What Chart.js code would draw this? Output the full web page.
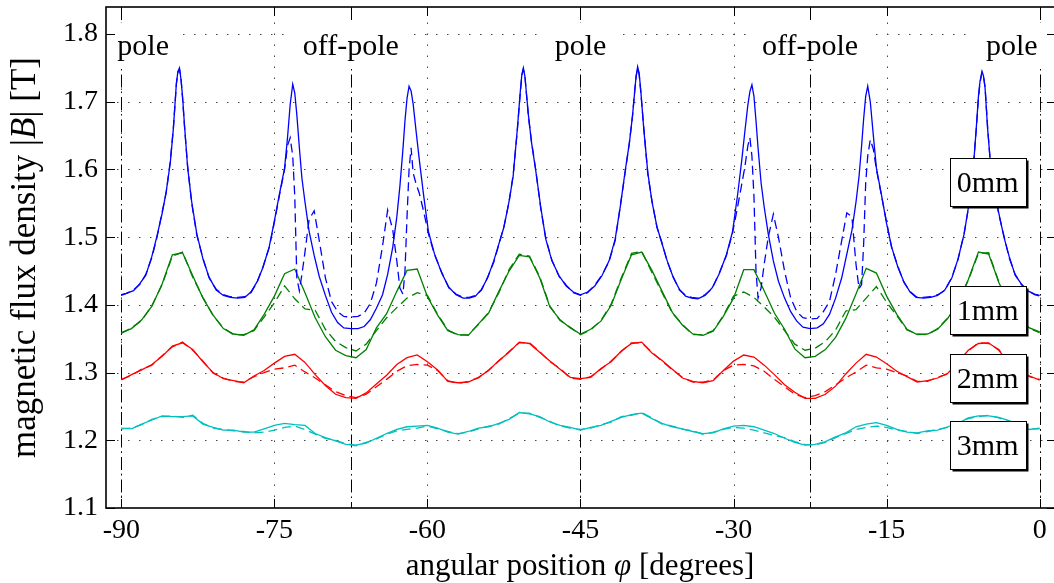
<!DOCTYPE html>
<html>
<head>
<meta charset="utf-8">
<script src="https://cdn.jsdelivr.net/npm/chart.js@4.4.0/dist/chart.umd.min.js"></script>
<style>
  html, body { margin: 0; padding: 0; background: #fff; overflow: hidden; }
  #wrap { width: 1060px; height: 583px; }
</style>
</head>
<body>
<div id="wrap"><canvas id="mychart" width="1060" height="583"></canvas></div>
<script>
// ---- data ----
const xTicks = [-90, -75, -60, -45, -30, -15, 0];
const yTicks = [1.1, 1.2, 1.3, 1.4, 1.5, 1.6, 1.7, 1.8];

const poleAt = [-90, -67.5, -45, -22.5, 0];
const poleText = ['pole', 'off-pole', 'pole', 'off-pole', 'pole'];

const gapText = ['0mm', '1mm', '2mm', '3mm'];
const gapY = [1.581, 1.392, 1.292, 1.193];

// 0mm: fine sampling because of the sharp peaks
const blueAngle = [
  -90, -89.5, -88.8, -88.2, -87.6, -87.0, -86.5, -86.0, -85.6, -85.2, -84.9, -84.6, -84.45, -84.3,
  -84.15, -84.0, -83.8, -83.5, -83.1, -82.6, -82.0, -81.4, -80.7, -80.0, -79.3, -78.6,
  -77.9, -77.3, -76.7, -76.1, -75.5, -75.0, -74.5, -74.0, -73.7, -73.45, -73.2,
  -73.0, -72.8, -72.55, -72.3, -72.0, -71.6, -71.1, -70.6, -70.0, -69.4, -68.8, -68.2, -67.5,
  -66.8, -66.2, -65.6, -65.0, -64.4, -63.9, -63.4, -63.0, -62.7, -62.4, -62.2, -62.0, -61.8,
  -61.6, -61.4, -61.1, -60.8, -60.4, -59.9, -59.3, -58.6, -57.9, -57.2, -56.5,
  -55.9, -55.3, -54.7, -54.1, -53.5, -53.0, -52.5, -52.0, -51.6, -51.2, -50.9, -50.75, -50.6,
  -50.45, -50.3, -50.1, -49.8, -49.4, -48.9, -48.4, -47.8, -47.1, -46.4, -45.7, -45.0,
  -44.3, -43.6, -42.9, -42.2, -41.6, -41.1, -40.6, -40.2, -39.9, -39.7, -39.55, -39.4,
  -39.25, -39.1, -38.8, -38.4, -38.0, -37.5, -37.0, -36.5, -35.9, -35.3, -34.7, -34.1, -33.5,
  -32.8, -32.1, -31.4, -30.7, -30.1, -29.6, -29.2, -28.9, -28.6, -28.4, -28.2,
  -28.0, -27.8, -27.6, -27.3, -27.0, -26.6, -26.1, -25.6, -25.0, -24.4, -23.8, -23.2, -22.5,
  -21.8, -21.2, -20.6, -20.0, -19.4, -18.9, -18.4, -18.0, -17.7, -17.45, -17.25, -17.05, -16.85,
  -16.6, -16.3, -16.0, -15.5, -15.0, -14.5, -13.9, -13.3, -12.7, -12.1,
  -11.4, -10.7, -10.0, -9.3, -8.6, -8.0, -7.4, -6.9, -6.5, -6.2, -6.0, -5.85, -5.65,
  -5.5, -5.35, -5.1, -4.8, -4.4, -4.0, -3.5, -3.0, -2.4, -1.8, -1.2, -0.5, 0
];
const blueSolid = [
  1.415, 1.417, 1.421, 1.431, 1.444, 1.472, 1.502, 1.535, 1.567, 1.610, 1.660, 1.728, 1.745, 1.750,
  1.733, 1.708, 1.664, 1.603, 1.552, 1.505, 1.468, 1.441, 1.422, 1.414, 1.411, 1.410,
  1.411, 1.419, 1.434, 1.456, 1.486, 1.524, 1.564, 1.602, 1.649, 1.696, 1.726,
  1.713, 1.681, 1.632, 1.587, 1.552, 1.509, 1.473, 1.442, 1.414, 1.389, 1.374, 1.366, 1.365,
  1.365, 1.368, 1.378, 1.395, 1.415, 1.445, 1.485, 1.530, 1.575, 1.630, 1.672, 1.705, 1.723,
  1.716, 1.697, 1.655, 1.615, 1.565, 1.508, 1.475, 1.447, 1.426, 1.415, 1.410,
  1.410, 1.413, 1.423, 1.440, 1.465, 1.490, 1.515, 1.553, 1.590, 1.658, 1.715, 1.740, 1.750,
  1.738, 1.713, 1.680, 1.640, 1.600, 1.545, 1.497, 1.465, 1.443, 1.428, 1.419, 1.415,
  1.419, 1.428, 1.443, 1.465, 1.497, 1.545, 1.600, 1.640, 1.680, 1.713, 1.738, 1.752,
  1.742, 1.718, 1.660, 1.595, 1.553, 1.515, 1.490, 1.465, 1.440, 1.423, 1.413, 1.410, 1.409,
  1.414, 1.425, 1.446, 1.474, 1.508, 1.563, 1.613, 1.655, 1.695, 1.715, 1.725,
  1.708, 1.672, 1.632, 1.580, 1.545, 1.505, 1.465, 1.435, 1.410, 1.390, 1.376, 1.367, 1.365,
  1.366, 1.372, 1.386, 1.410, 1.440, 1.475, 1.510, 1.552, 1.590, 1.635, 1.675, 1.708, 1.723,
  1.700, 1.650, 1.602, 1.562, 1.520, 1.485, 1.456, 1.434, 1.419, 1.411,
  1.410, 1.411, 1.414, 1.422, 1.440, 1.468, 1.505, 1.552, 1.603, 1.664, 1.708, 1.730, 1.745,
  1.738, 1.720, 1.660, 1.605, 1.565, 1.535, 1.500, 1.472, 1.444, 1.431, 1.421, 1.416, 1.414
];
const blueDashed = [
  1.414, 1.417, 1.422, 1.430, 1.445, 1.470, 1.500, 1.537, 1.566, 1.612, 1.661, 1.726, 1.744, 1.748,
  1.735, 1.706, 1.662, 1.605, 1.550, 1.503, 1.469, 1.440, 1.423, 1.415, 1.412, 1.411,
  1.412, 1.418, 1.433, 1.457, 1.485, 1.522, 1.562, 1.600, 1.636, 1.647, 1.620,
  1.560, 1.440, 1.421, 1.445, 1.478, 1.526, 1.539, 1.495, 1.440, 1.405, 1.390, 1.383, 1.382,
  1.383, 1.388, 1.402, 1.432, 1.487, 1.540, 1.511, 1.465, 1.425, 1.416, 1.450, 1.530, 1.600,
  1.632, 1.595, 1.578, 1.565, 1.540, 1.505, 1.474, 1.448, 1.425, 1.416, 1.411,
  1.411, 1.414, 1.422, 1.441, 1.463, 1.489, 1.516, 1.552, 1.592, 1.656, 1.713, 1.738, 1.748,
  1.739, 1.712, 1.678, 1.641, 1.601, 1.543, 1.498, 1.466, 1.442, 1.429, 1.418, 1.414,
  1.418, 1.429, 1.444, 1.464, 1.495, 1.546, 1.598, 1.641, 1.679, 1.714, 1.737, 1.750,
  1.740, 1.716, 1.662, 1.593, 1.554, 1.514, 1.491, 1.464, 1.441, 1.422, 1.414, 1.411, 1.410,
  1.415, 1.424, 1.447, 1.473, 1.506, 1.545, 1.578, 1.603, 1.635, 1.647, 1.620,
  1.560, 1.450, 1.410, 1.425, 1.460, 1.500, 1.534, 1.500, 1.450, 1.410, 1.390, 1.381, 1.379,
  1.380, 1.390, 1.405, 1.445, 1.495, 1.536, 1.530, 1.460, 1.424, 1.430, 1.490, 1.580, 1.620,
  1.644, 1.630, 1.600, 1.561, 1.522, 1.484, 1.457, 1.433, 1.420, 1.412,
  1.411, 1.412, 1.415, 1.421, 1.441, 1.467, 1.506, 1.550, 1.605, 1.662, 1.706, 1.728, 1.743,
  1.737, 1.722, 1.662, 1.603, 1.567, 1.533, 1.502, 1.470, 1.445, 1.430, 1.422, 1.415, 1.413
];

// 1mm, 2mm, 3mm: one value per degree
const angle = [
  -90, -89, -88, -87, -86, -85, -84, -83, -82, -81, -80, -79, -78, -77, -76, -75, -74, -73, -72, -71,
  -70, -69, -68, -67, -66, -65, -64, -63, -62, -61, -60, -59, -58, -57, -56, -55, -54, -53, -52, -51,
  -50, -49, -48, -47, -46, -45, -44, -43, -42, -41, -40, -39, -38, -37, -36, -35, -34, -33, -32, -31,
  -30, -29, -28, -27, -26, -25, -24, -23, -22, -21, -20, -19, -18, -17, -16, -15, -14, -13, -12, -11,
  -10, -9, -8, -7, -6, -5, -4, -3, -2, -1, 0
];
const greenSolid = [
  1.359, 1.365, 1.378, 1.398, 1.431, 1.474, 1.477, 1.443, 1.410, 1.385, 1.365, 1.357, 1.355, 1.363, 1.386, 1.413, 1.446, 1.453, 1.418, 1.381,
  1.353, 1.333, 1.325, 1.322, 1.334, 1.366, 1.387, 1.420, 1.451, 1.453, 1.412, 1.385, 1.362, 1.356, 1.355, 1.372, 1.388, 1.420, 1.450, 1.473,
  1.471, 1.440, 1.397, 1.378, 1.366, 1.357, 1.364, 1.376, 1.399, 1.438, 1.474, 1.478, 1.451, 1.420, 1.389, 1.370, 1.357, 1.355, 1.361, 1.383,
  1.410, 1.452, 1.452, 1.421, 1.388, 1.364, 1.335, 1.322, 1.324, 1.334, 1.352, 1.380, 1.416, 1.454, 1.447, 1.413, 1.386, 1.364, 1.356, 1.357,
  1.364, 1.380, 1.404, 1.437, 1.478, 1.475, 1.433, 1.400, 1.379, 1.366, 1.360
];
const greenDashed = [
  1.358, 1.366, 1.377, 1.399, 1.430, 1.472, 1.478, 1.441, 1.411, 1.384, 1.366, 1.356, 1.356, 1.362, 1.382, 1.403, 1.428, 1.409, 1.394, 1.392,
  1.364, 1.346, 1.337, 1.332, 1.342, 1.362, 1.381, 1.396, 1.410, 1.418, 1.414, 1.386, 1.363, 1.355, 1.356, 1.371, 1.389, 1.418, 1.452, 1.475,
  1.472, 1.442, 1.398, 1.377, 1.367, 1.356, 1.363, 1.377, 1.401, 1.440, 1.476, 1.479, 1.448, 1.418, 1.388, 1.371, 1.356, 1.356, 1.362, 1.384,
  1.413, 1.419, 1.411, 1.397, 1.382, 1.362, 1.342, 1.333, 1.336, 1.346, 1.363, 1.391, 1.393, 1.410, 1.427, 1.404, 1.384, 1.363, 1.357, 1.356,
  1.365, 1.381, 1.405, 1.436, 1.476, 1.477, 1.434, 1.399, 1.378, 1.365, 1.359
];
const redSolid = [
  1.289, 1.297, 1.304, 1.312, 1.324, 1.339, 1.344, 1.334, 1.316, 1.300, 1.291, 1.288, 1.285, 1.295, 1.303, 1.314, 1.324, 1.327, 1.315, 1.297,
  1.281, 1.268, 1.263, 1.262, 1.270, 1.283, 1.296, 1.312, 1.322, 1.326, 1.316, 1.304, 1.287, 1.285, 1.286, 1.293, 1.303, 1.318, 1.330, 1.345,
  1.343, 1.330, 1.317, 1.305, 1.293, 1.291, 1.293, 1.306, 1.316, 1.332, 1.343, 1.345, 1.329, 1.318, 1.305, 1.292, 1.287, 1.285, 1.288, 1.303,
  1.317, 1.326, 1.323, 1.311, 1.297, 1.282, 1.271, 1.262, 1.262, 1.268, 1.280, 1.298, 1.314, 1.327, 1.323, 1.313, 1.302, 1.294, 1.286, 1.288,
  1.292, 1.299, 1.315, 1.333, 1.343, 1.344, 1.333, 1.313, 1.303, 1.295, 1.289
];
const redDashed = [
  1.290, 1.296, 1.305, 1.311, 1.325, 1.338, 1.345, 1.333, 1.317, 1.299, 1.292, 1.287, 1.286, 1.294, 1.300, 1.305, 1.307, 1.311, 1.301, 1.292,
  1.282, 1.272, 1.266, 1.263, 1.268, 1.279, 1.290, 1.302, 1.310, 1.312, 1.311, 1.303, 1.288, 1.284, 1.287, 1.292, 1.304, 1.317, 1.331, 1.344,
  1.344, 1.331, 1.316, 1.306, 1.292, 1.290, 1.294, 1.305, 1.317, 1.331, 1.344, 1.344, 1.330, 1.317, 1.304, 1.293, 1.286, 1.286, 1.289, 1.303,
  1.311, 1.312, 1.310, 1.302, 1.290, 1.279, 1.268, 1.263, 1.266, 1.272, 1.282, 1.292, 1.301, 1.311, 1.307, 1.305, 1.300, 1.295, 1.287, 1.287,
  1.293, 1.298, 1.316, 1.332, 1.344, 1.343, 1.334, 1.312, 1.304, 1.294, 1.290
];
const cyanSolid = [
  1.218, 1.217, 1.224, 1.230, 1.236, 1.235, 1.235, 1.236, 1.224, 1.219, 1.215, 1.215, 1.212, 1.212, 1.217, 1.222, 1.225, 1.223, 1.222, 1.210,
  1.204, 1.199, 1.194, 1.193, 1.196, 1.203, 1.210, 1.216, 1.220, 1.221, 1.222, 1.218, 1.212, 1.209, 1.213, 1.218, 1.220, 1.225, 1.231, 1.241,
  1.239, 1.235, 1.227, 1.222, 1.219, 1.215, 1.219, 1.222, 1.228, 1.234, 1.238, 1.240, 1.232, 1.225, 1.220, 1.217, 1.213, 1.210, 1.211, 1.217,
  1.221, 1.222, 1.220, 1.215, 1.210, 1.203, 1.197, 1.193, 1.194, 1.198, 1.205, 1.211, 1.220, 1.224, 1.226, 1.222, 1.216, 1.212, 1.211, 1.214,
  1.215, 1.220, 1.225, 1.233, 1.236, 1.236, 1.234, 1.229, 1.223, 1.216, 1.218
];
const cyanDashed = [
  1.217, 1.218, 1.223, 1.231, 1.235, 1.236, 1.234, 1.237, 1.225, 1.218, 1.216, 1.214, 1.213, 1.211, 1.212, 1.215, 1.219, 1.221, 1.216, 1.209,
  1.203, 1.200, 1.195, 1.192, 1.197, 1.202, 1.209, 1.214, 1.216, 1.218, 1.221, 1.217, 1.213, 1.210, 1.212, 1.217, 1.221, 1.224, 1.232, 1.240,
  1.240, 1.234, 1.228, 1.221, 1.218, 1.216, 1.218, 1.223, 1.227, 1.235, 1.237, 1.241, 1.233, 1.224, 1.221, 1.216, 1.214, 1.209, 1.212, 1.216,
  1.219, 1.218, 1.215, 1.211, 1.207, 1.204, 1.198, 1.194, 1.193, 1.197, 1.204, 1.210, 1.216, 1.219, 1.221, 1.219, 1.215, 1.213, 1.210, 1.213,
  1.216, 1.219, 1.226, 1.232, 1.235, 1.237, 1.233, 1.228, 1.222, 1.217, 1.217
];

const xTitle = [['angular position ', ''], ['φ', 'italic '], [' [degrees]', '']];
const yTitle = [['magnetic flux density |', ''], ['B', 'italic '], ['| [T]', '']];

// ---- chart ----
const FONT = '"Liberation Serif", "Times New Roman", serif';

function pts(xs, ys) {
  return xs.map((v, i) => ({ x: v, y: ys[i] }));
}
function series(label, xs, ys, color, dashed) {
  return {
    label: label,
    data: pts(xs, ys),
    borderColor: color,
    borderWidth: 1.3,
    borderDash: dashed ? [9, 5] : [],
    pointRadius: 0,
    fill: false,
    tension: 0,
  };
}

function drawRuns(ctx, runs, cx, baseY, size) {
  let total = 0;
  const widths = runs.map(r => {
    ctx.font = r[1] + size + 'px ' + FONT;
    const w = ctx.measureText(r[0]).width;
    total += w;
    return w;
  });
  let px = cx - total / 2;
  runs.forEach((r, i) => {
    ctx.font = r[1] + size + 'px ' + FONT;
    ctx.fillText(r[0], px, baseY);
    px += widths[i];
  });
}

const decor = {
  id: 'decor',
  beforeDatasetsDraw(chart) {
    const { ctx, chartArea: a, scales: { x, y } } = chart;
    ctx.save();
    ctx.beginPath();
    ctx.rect(a.left, a.top, a.right - a.left, a.bottom - a.top);
    ctx.clip();

    // dotted grid
    ctx.strokeStyle = '#444';
    ctx.lineWidth = 1;
    ctx.setLineDash([1.5, 9.5]);
    xTicks.forEach(v => {
      const px = Math.round(x.getPixelForValue(v)) + 0.5;
      ctx.beginPath(); ctx.moveTo(px, a.bottom); ctx.lineTo(px, a.top); ctx.stroke();
    });
    yTicks.forEach(v => {
      const py = Math.round(y.getPixelForValue(v)) + 0.5;
      ctx.beginPath(); ctx.moveTo(a.left, py); ctx.lineTo(a.right, py); ctx.stroke();
    });

    // pole / off-pole dash-dot lines
    ctx.strokeStyle = '#000';
    ctx.setLineDash([13, 4, 1.5, 4]);
    poleAt.forEach(v => {
      const px = Math.round(x.getPixelForValue(v)) + 0.5;
      ctx.beginPath(); ctx.moveTo(px, a.top); ctx.lineTo(px, a.bottom); ctx.stroke();
    });
    ctx.setLineDash([]);

    // pole labels on white
    ctx.font = '30px ' + FONT;
    ctx.textBaseline = 'alphabetic';
    ctx.textAlign = 'left';
    poleText.forEach((t, i) => {
      const px = x.getPixelForValue(poleAt[i]);
      const w = ctx.measureText(t).width;
      let left = px - w / 2;
      if (i === 0) left = px - 4;
      if (i === poleText.length - 1) left = px - w - 2;
      ctx.fillStyle = '#fff';
      ctx.fillRect(left - 12, 23, w + 24, 46);
      ctx.fillStyle = '#000';
      ctx.fillText(t, left, 55);
    });
    ctx.restore();
  },
  afterDraw(chart) {
    const { ctx, chartArea: a, scales: { x, y } } = chart;
    ctx.save();

    // gap boxes
    ctx.font = '30px ' + FONT;
    ctx.textAlign = 'center';
    ctx.textBaseline = 'middle';
    const bx = x.getPixelForValue(-5.1);
    gapText.forEach((t, i) => {
      const by = y.getPixelForValue(gapY[i]);
      const l = Math.round(bx - 38) + 0.5, tp = Math.round(by - 24) + 0.5;
      ctx.fillStyle = '#000';
      ctx.fillRect(l + 2, tp + 2, 76, 48);
      ctx.fillStyle = '#fff';
      ctx.fillRect(l, tp, 76, 48);
      ctx.strokeStyle = '#000';
      ctx.lineWidth = 1;
      ctx.strokeRect(l, tp, 76, 48);
      ctx.fillStyle = '#000';
      ctx.fillText(t, bx, by + 2);
    });

    // frame and inward ticks
    ctx.strokeStyle = '#000';
    ctx.lineWidth = 1.6;
    ctx.strokeRect(a.left, a.top, a.right - a.left, a.bottom - a.top);
    ctx.lineWidth = 1;
    xTicks.forEach(v => {
      const px = Math.round(x.getPixelForValue(v)) + 0.5;
      ctx.beginPath();
      ctx.moveTo(px, a.bottom); ctx.lineTo(px, a.bottom - 9);
      ctx.moveTo(px, a.top); ctx.lineTo(px, a.top + 9);
      ctx.stroke();
    });
    yTicks.forEach(v => {
      const py = Math.round(y.getPixelForValue(v)) + 0.5;
      ctx.beginPath();
      ctx.moveTo(a.left, py); ctx.lineTo(a.left + 9, py);
      ctx.moveTo(a.right, py); ctx.lineTo(a.right - 9, py);
      ctx.stroke();
    });

    // axis titles
    ctx.fillStyle = '#000';
    ctx.textAlign = 'left';
    ctx.textBaseline = 'alphabetic';
    drawRuns(ctx, xTitle, (a.left + a.right) / 2 - 1, 575, 31);
    ctx.translate(35, (a.top + a.bottom) / 2);
    ctx.rotate(-Math.PI / 2);
    drawRuns(ctx, yTitle, 0, 0, 35);
    ctx.restore();
  }
};

const getchart = document.querySelector('#mychart');

const config = {
  type: 'line',
  data: {
    datasets: [
      series('0mm', blueAngle, blueSolid, '#0000ff', false),
      series('0mm sim', blueAngle, blueDashed, '#0000ff', true),
      series('1mm', angle, greenSolid, '#008000', false),
      series('1mm sim', angle, greenDashed, '#008000', true),
      series('2mm', angle, redSolid, '#ff0000', false),
      series('2mm sim', angle, redDashed, '#ff0000', true),
      series('3mm', angle, cyanSolid, '#00bfbf', false),
      series('3mm sim', angle, cyanDashed, '#00bfbf', true),
    ]
  },
  options: {
    responsive: false,
    animation: false,
    layout: { padding: { top: 7, right: 4, left: 0, bottom: 0 } },
    plugins: {
      legend: { display: false },
      tooltip: { enabled: false },
    },
    scales: {
      x: {
        type: 'linear',
        min: -91.5,
        max: 1.6,
        grid: { display: false, drawTicks: false },
        border: { display: false },
        afterBuildTicks: s => { s.ticks = xTicks.map(v => ({ value: v })); },
        afterFit: s => { s.height = 75; s.paddingLeft = 0; s.paddingRight = 0; },
        ticks: {
          padding: 6,
          color: '#000',
          font: { family: FONT, size: 28 },
          maxRotation: 0,
          callback: v => String(v),
        },
      },
      y: {
        type: 'linear',
        min: 1.1,
        max: 1.84,
        grid: { display: false, drawTicks: false },
        border: { display: false },
        afterBuildTicks: s => { s.ticks = yTicks.map(v => ({ value: v })); },
        afterFit: s => { s.width = 106; s.paddingTop = 0; s.paddingBottom = 0; },
        ticks: {
          padding: 8,
          color: '#000',
          font: { family: FONT, size: 28 },
          callback: v => v.toFixed(1),
        },
      },
    },
  },
  plugins: [decor],
};

let chart = new Chart(getchart, config);
</script>
</body>
</html>
